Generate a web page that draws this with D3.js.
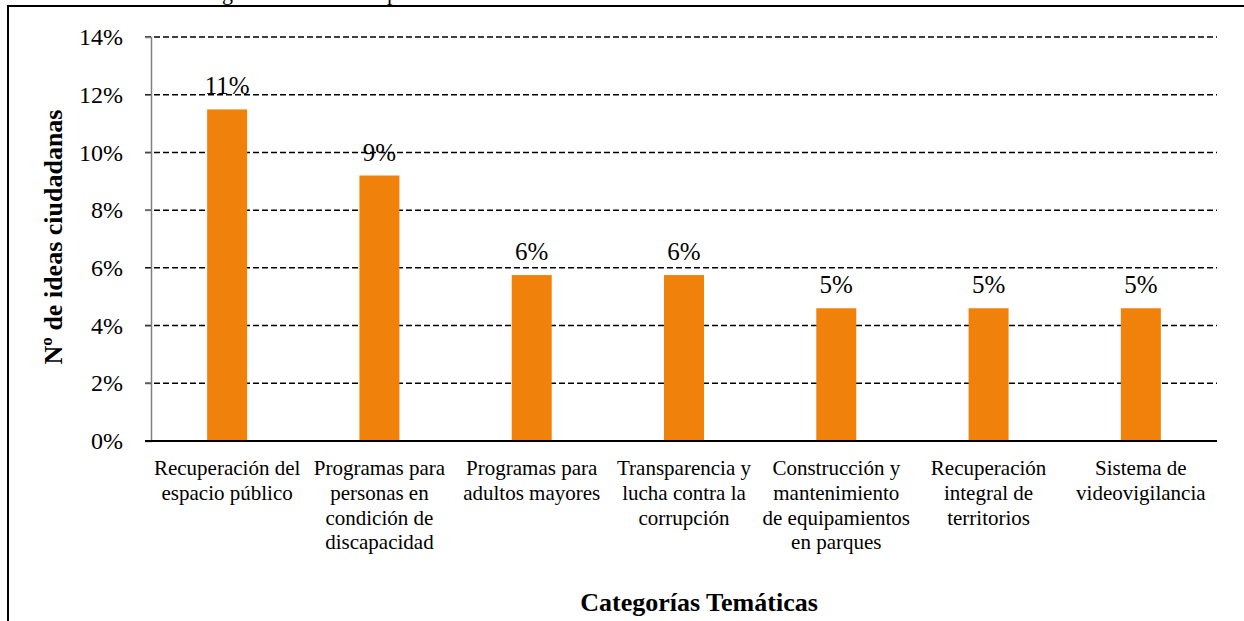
<!DOCTYPE html>
<html>
<head>
<meta charset="utf-8">
<script src="https://cdn.jsdelivr.net/npm/d3@7"></script>
<style>
  body { margin: 0; background: #fff; }
</style>
</head>
<body>
<div id="chart"></div>
<script>
// categorias (con saltos de linea como en el original)
const categorias = [
  "Recuperación del\nespacio público",
  "Programas para\npersonas en\ncondición de\ndiscapacidad",
  "Programas para\nadultos mayores",
  "Transparencia y\nlucha contra la\ncorrupción",
  "Construcción y\nmantenimiento\nde equipamientos\nen parques",
  "Recuperación\nintegral de\nterritorios",
  "Sistema de\nvideovigilancia"
];
// proporcion de ideas ciudadanas
const valores = [0.1149, 0.092, 0.0575, 0.0575, 0.046, 0.046, 0.046];
const ticksY = [0, 0.02, 0.04, 0.06, 0.08, 0.10, 0.12, 0.14];

const width = 1244, height = 621;
const margin = { left: 151, right: 27, top: 37, bottom: 180 };
const serif = "Liberation Serif";

const svg = d3.select("#chart").append("svg")
  .attr("width", width)
  .attr("height", height);

// titulo recortado y marco
svg.append("text")
  .attr("x", 87).attr("y", 0)
  .style("font-family", serif)
  .style("font-size", "22px")
  .text("Gráfico 5. Categorías temáticas representativas");
svg.append("rect")
  .attr("x", 8).attr("y", 6)
  .attr("width", width + 10).attr("height", height + 10)
  .attr("fill", "none")
  .attr("stroke", "#000")
  .attr("stroke-width", 2);

const x = d3.scaleBand()
  .domain(categorias)
  .range([margin.left, width - margin.right])
  .padding(0);

const y = d3.scaleLinear()
  .domain([0, 0.14])
  .range([height - margin.bottom, margin.top]);

const barW = 40;

// lineas de cuadricula
svg.append("g")
  .selectAll("line")
  .data(ticksY.filter(d => d > 0))
  .enter().append("line")
  .attr("x1", margin.left - 6)
  .attr("x2", width - margin.right)
  .attr("y1", d => y(d))
  .attr("y2", d => y(d))
  .attr("stroke", "#000")
  .attr("stroke-width", 1.5)
  .attr("stroke-dasharray", "6,3");

// eje Y
const yAxis = svg.append("g")
  .attr("transform", `translate(${margin.left},0)`)
  .call(d3.axisLeft(y).tickValues(ticksY).tickFormat(d3.format(".0%")).tickSize(6).tickPadding(22));
yAxis.attr("font-family", serif);
yAxis.select(".domain").attr("stroke", "#7f7f7f").attr("stroke-width", 1.5);
yAxis.selectAll(".tick line").attr("stroke", "#7f7f7f");
yAxis.selectAll(".tick text")
  .style("font-size", "24px")
  .style("font-family", serif)
  .attr("fill", "#000");

// barras
svg.append("g")
  .selectAll("rect")
  .data(valores)
  .enter().append("rect")
  .attr("x", (d, i) => x(categorias[i]) + x.bandwidth() / 2 - barW / 2)
  .attr("y", d => y(d))
  .attr("width", barW)
  .attr("height", d => y(0) - y(d))
  .attr("fill", "#f0820c");

// eje X
svg.append("line")
  .attr("x1", margin.left - 6)
  .attr("x2", width - margin.right)
  .attr("y1", y(0))
  .attr("y2", y(0))
  .attr("stroke", "#000")
  .attr("stroke-width", 2);

// etiquetas de datos
svg.append("g")
  .selectAll("text")
  .data(valores)
  .enter().append("text")
  .attr("x", (d, i) => x(categorias[i]) + x.bandwidth() / 2)
  .attr("y", d => y(d) - 15)
  .attr("text-anchor", "middle")
  .style("font-size", "25px")
  .style("font-family", serif)
  .text(d => d3.format(".0%")(d));

// etiquetas de categorias
const catLabels = svg.append("g")
  .selectAll("text")
  .data(categorias)
  .enter().append("text")
  .attr("text-anchor", "middle")
  .style("font-size", "21px")
  .style("font-family", serif);
catLabels.each(function (d) {
  const t = d3.select(this);
  d.split("\n").forEach((line, k) => {
    t.append("tspan")
      .attr("x", x(d) + x.bandwidth() / 2)
      .attr("y", y(0) + 34 + k * 24.8)
      .text(line);
  });
});

// titulos de ejes
svg.append("text")
  .attr("x", 699)
  .attr("y", 611)
  .attr("text-anchor", "middle")
  .style("font-family", serif)
  .style("font-size", "26px")
  .style("font-weight", "bold")
  .text("Categorías Temáticas");

svg.append("text")
  .attr("transform", "translate(62,237) rotate(-90)")
  .attr("text-anchor", "middle")
  .style("font-family", serif)
  .style("font-size", "26px")
  .style("font-weight", "bold")
  .text("Nº de ideas ciudadanas");
</script>
</body>
</html>
